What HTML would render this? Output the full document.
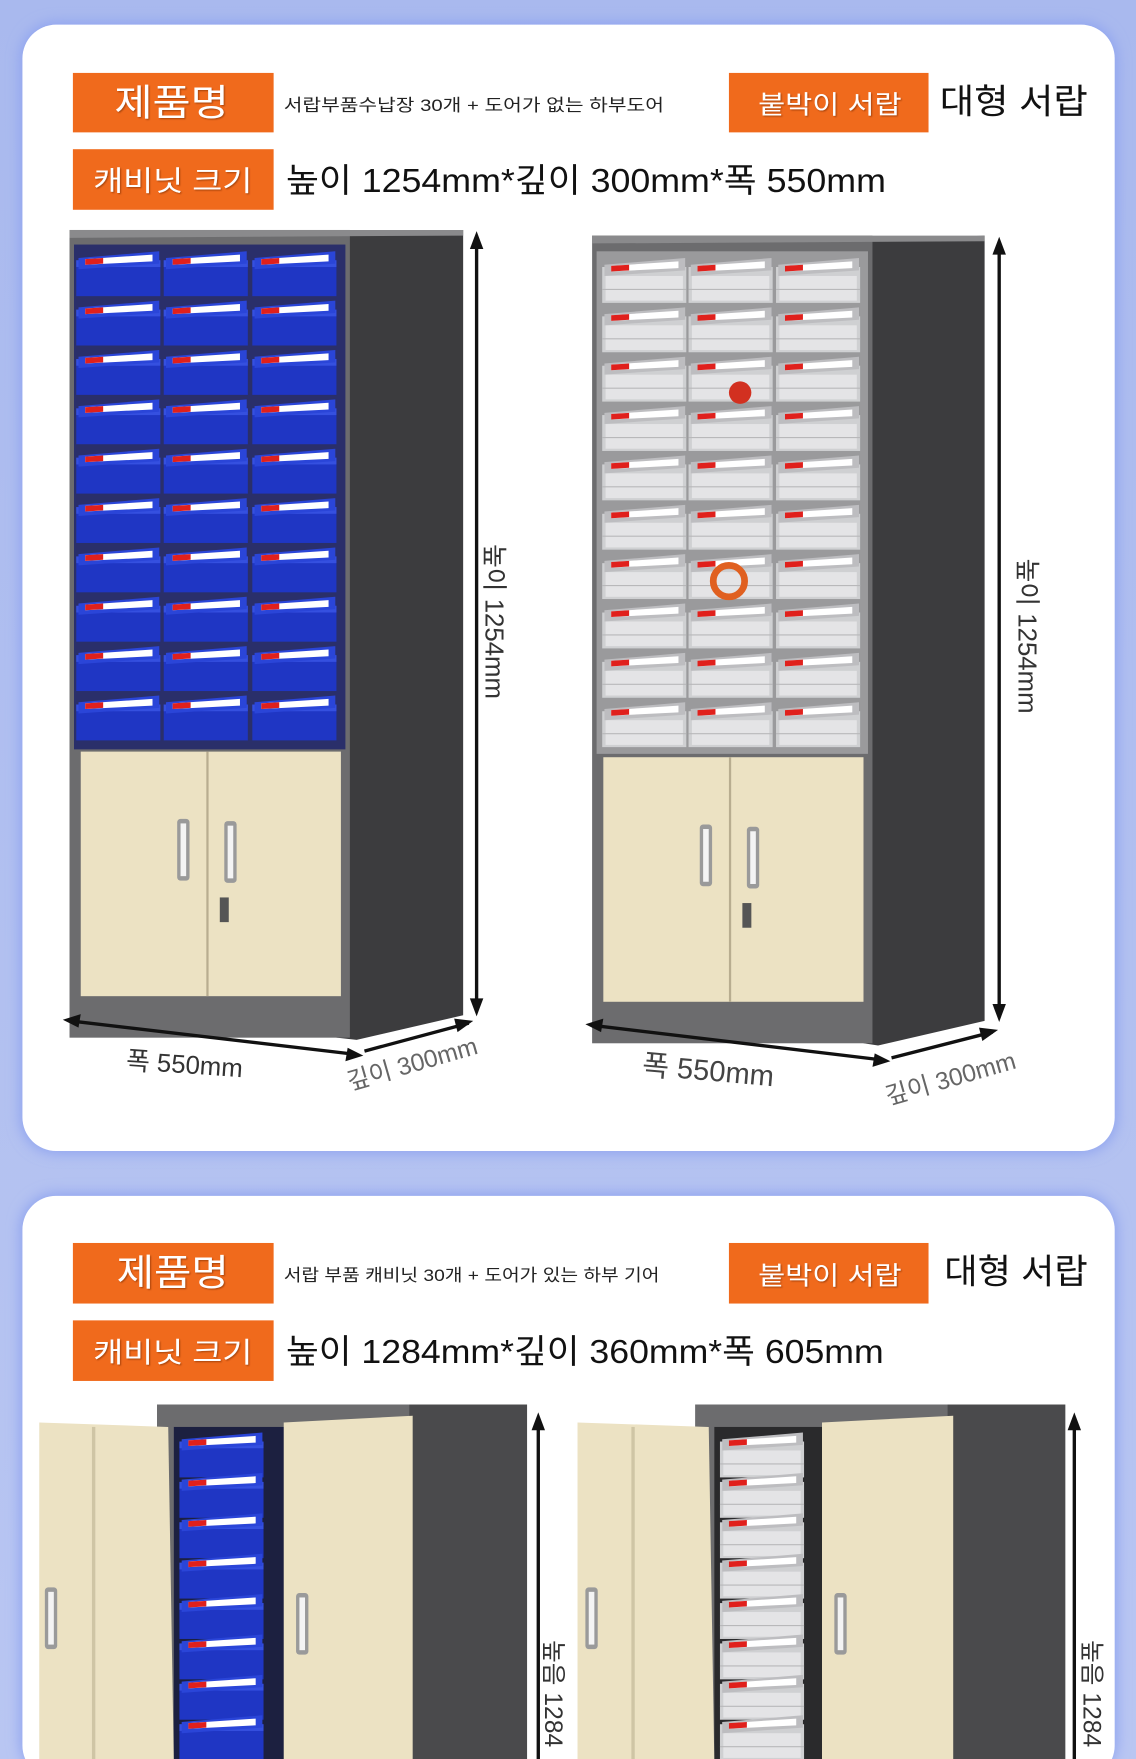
<!DOCTYPE html>
<html><head><meta charset="utf-8">
<style>
html,body{margin:0;padding:0;width:1136px;height:1759px;overflow:hidden;background:#b4c2f0;}
svg{display:block}
text{font-family:"Liberation Sans","Noto Sans CJK KR",sans-serif;}
</style></head>
<body>
<svg width="1136" height="1759" viewBox="0 0 1013 1568" preserveAspectRatio="none" xmlns="http://www.w3.org/2000/svg">
<defs>
<linearGradient id="bg" x1="0" y1="0" x2="0" y2="1"><stop offset="0" stop-color="#a9b9ee"/><stop offset="1" stop-color="#b9c6f2"/></linearGradient>
<filter id="glow" x="-5%" y="-5%" width="110%" height="110%"><feGaussianBlur stdDeviation="6"/></filter>
<filter id="ts"><feDropShadow dx="1" dy="1" stdDeviation="0.8" flood-color="#7a2a00" flood-opacity="0.6"/></filter>
<g id="bd">
<rect x="0" y="10" width="75" height="32" fill="#1f36c4"/>
<rect x="0" y="10" width="75" height="6" fill="#3550e0"/>
<polygon points="2,8 74,2 74,13 2,18" fill="#2a45d8"/>
<polygon points="8,9 68,5 68,11 8,14" fill="#fff"/>
<polygon points="8,9 24,8 24,13 8,14" fill="#e0201c"/>
</g>
<g id="cd">
<rect x="0" y="10" width="75" height="32" fill="#cfd0d2"/>
<rect x="3" y="18" width="69" height="22" fill="#e4e4e6"/>
<line x1="0" y1="30" x2="75" y2="30" stroke="#b8b8ba"/>
<polygon points="2,8 74,2 74,13 2,18" fill="#bdbdc0"/>
<polygon points="8,9 68,5 68,11 8,14" fill="#fff"/>
<polygon points="8,9 24,8 24,13 8,14" fill="#e0201c"/>
</g>
<g id="handle">
<rect x="0" y="0" width="11" height="55" rx="3" fill="#9a9a9a"/>
<rect x="3" y="4" width="5" height="47" fill="#f4f4f4"/>
</g>
</defs>
<rect width="1013" height="1568" fill="url(#bg)"/>
<rect x="18" y="20" width="978" height="1008" rx="32" fill="#8ea3f0" filter="url(#glow)"/>
<rect x="20" y="22" width="974" height="1004" rx="30" fill="#fff"/>
<rect x="18" y="1064" width="978" height="520" rx="32" fill="#8ea3f0" filter="url(#glow)"/>
<rect x="20" y="1066" width="974" height="520" rx="30" fill="#fff"/>

<!-- header 1 -->
<rect x="65" y="65" width="179" height="53" fill="#f06a1c"/>
<text x="102" y="103" font-size="33" fill="#fff" textLength="102" lengthAdjust="spacingAndGlyphs" filter="url(#ts)">제품명</text>
<text x="253" y="99" font-size="15" fill="#222" textLength="339" lengthAdjust="spacingAndGlyphs">서랍부품수납장 30개 + 도어가 없는 하부도어</text>
<rect x="650" y="65" width="178" height="53" fill="#f06a1c"/>
<text x="676" y="101" font-size="23" fill="#fff" textLength="128" lengthAdjust="spacingAndGlyphs" filter="url(#ts)">붙박이 서랍</text>
<text x="838" y="101" font-size="31" fill="#111" textLength="132" lengthAdjust="spacingAndGlyphs">대형 서랍</text>
<rect x="65" y="133" width="179" height="54" fill="#f06a1c"/>
<text x="83" y="170" font-size="25" fill="#fff" textLength="142" lengthAdjust="spacingAndGlyphs" filter="url(#ts)">캐비닛 크기</text>
<text x="255" y="171" font-size="30" fill="#111" textLength="535" lengthAdjust="spacingAndGlyphs">높이 1254mm*깊이 300mm*폭 550mm</text>

<!-- cabinet 1 -->
<polygon points="300,210 413,205 413,905 318,927 300,925" fill="#3c3c3e"/>
<rect x="62" y="205" width="250" height="720" fill="#6c6c6e"/>
<polygon points="62,205 413,205 413,210 62,212" fill="#8a8a8c"/>
<rect x="66" y="218" width="242" height="450" fill="#2a2f6a"/>
<g>
<use href="#bd" x="68" y="222"/><use href="#bd" x="146" y="222"/><use href="#bd" x="225" y="222"/>
<use href="#bd" x="68" y="266"/><use href="#bd" x="146" y="266"/><use href="#bd" x="225" y="266"/>
<use href="#bd" x="68" y="310"/><use href="#bd" x="146" y="310"/><use href="#bd" x="225" y="310"/>
<use href="#bd" x="68" y="354"/><use href="#bd" x="146" y="354"/><use href="#bd" x="225" y="354"/>
<use href="#bd" x="68" y="398"/><use href="#bd" x="146" y="398"/><use href="#bd" x="225" y="398"/>
<use href="#bd" x="68" y="442"/><use href="#bd" x="146" y="442"/><use href="#bd" x="225" y="442"/>
<use href="#bd" x="68" y="486"/><use href="#bd" x="146" y="486"/><use href="#bd" x="225" y="486"/>
<use href="#bd" x="68" y="530"/><use href="#bd" x="146" y="530"/><use href="#bd" x="225" y="530"/>
<use href="#bd" x="68" y="574"/><use href="#bd" x="146" y="574"/><use href="#bd" x="225" y="574"/>
<use href="#bd" x="68" y="618"/><use href="#bd" x="146" y="618"/><use href="#bd" x="225" y="618"/>
</g>
<rect x="72" y="670" width="232" height="218" fill="#ece2c3"/>
<line x1="185" y1="670" x2="185" y2="888" stroke="#b8ad90" stroke-width="2"/>
<use href="#handle" x="158" y="730"/><use href="#handle" x="200" y="732"/>
<rect x="196" y="800" width="8" height="22" fill="#555"/>
<line x1="425" y1="212" x2="425" y2="900" stroke="#111" stroke-width="3"/>
<polygon points="425,206 419,222 431,222" fill="#111"/><polygon points="425,906 419,890 431,890" fill="#111"/>
<text transform="translate(433,485) rotate(90)" font-size="23" fill="#333">높이 1254mm</text>
<line x1="62" y1="910" x2="318" y2="940" stroke="#111" stroke-width="3"/>
<polygon points="56,909 72,904 70,916" fill="#111"/><polygon points="324,941 308,946 310,934" fill="#111"/>
<line x1="325" y1="937" x2="418" y2="912" stroke="#111" stroke-width="3"/>
<polygon points="422,910 408,920 405,908" fill="#111"/>
<text x="112" y="953" font-size="23" fill="#333" transform="rotate(4 112 953)">폭 550mm</text>
<text x="312" y="972" font-size="22" fill="#666" transform="rotate(-16 312 972)">깊이 300mm</text>

<!-- cabinet 2 -->
<polygon points="770,215 878,210 878,910 783,932 770,930" fill="#3c3c3e"/>
<rect x="528" y="210" width="250" height="720" fill="#6c6c6e"/>
<polygon points="528,210 878,210 878,215 528,217" fill="#8a8a8c"/>
<rect x="532" y="224" width="242" height="448" fill="#9a9a9c"/>
<g>
<use href="#cd" x="537" y="228"/><use href="#cd" x="614" y="228"/><use href="#cd" x="692" y="228"/>
<use href="#cd" x="537" y="272"/><use href="#cd" x="614" y="272"/><use href="#cd" x="692" y="272"/>
<use href="#cd" x="537" y="316"/><use href="#cd" x="614" y="316"/><use href="#cd" x="692" y="316"/>
<use href="#cd" x="537" y="360"/><use href="#cd" x="614" y="360"/><use href="#cd" x="692" y="360"/>
<use href="#cd" x="537" y="404"/><use href="#cd" x="614" y="404"/><use href="#cd" x="692" y="404"/>
<use href="#cd" x="537" y="448"/><use href="#cd" x="614" y="448"/><use href="#cd" x="692" y="448"/>
<use href="#cd" x="537" y="492"/><use href="#cd" x="614" y="492"/><use href="#cd" x="692" y="492"/>
<use href="#cd" x="537" y="536"/><use href="#cd" x="614" y="536"/><use href="#cd" x="692" y="536"/>
<use href="#cd" x="537" y="580"/><use href="#cd" x="614" y="580"/><use href="#cd" x="692" y="580"/>
<use href="#cd" x="537" y="624"/><use href="#cd" x="614" y="624"/><use href="#cd" x="692" y="624"/>
</g>
<circle cx="660" cy="350" r="10" fill="#d23020"/><circle cx="650" cy="518" r="14" fill="none" stroke="#e06020" stroke-width="6"/>
<rect x="538" y="675" width="232" height="218" fill="#ece2c3"/>
<line x1="651" y1="675" x2="651" y2="893" stroke="#b8ad90" stroke-width="2"/>
<use href="#handle" x="624" y="735"/><use href="#handle" x="666" y="737"/>
<rect x="662" y="805" width="8" height="22" fill="#555"/>
<line x1="891" y1="217" x2="891" y2="905" stroke="#111" stroke-width="3"/>
<polygon points="891,211 885,227 897,227" fill="#111"/><polygon points="891,911 885,895 897,895" fill="#111"/>
<text transform="translate(908,498) rotate(90)" font-size="23" fill="#333">높이 1254mm</text>
<line x1="528" y1="914" x2="788" y2="945" stroke="#111" stroke-width="3"/>
<polygon points="522,913 538,908 536,920" fill="#111"/><polygon points="794,946 778,951 780,939" fill="#111"/>
<line x1="795" y1="943" x2="885" y2="920" stroke="#111" stroke-width="3"/>
<polygon points="890,918 876,928 873,916" fill="#111"/>
<text x="572" y="958" font-size="26" fill="#444" transform="rotate(5 572 958)">폭 550mm</text>
<text x="792" y="985" font-size="22" fill="#666" transform="rotate(-16 792 985)">깊이 300mm</text>

<!-- header 2 -->
<rect x="65" y="1108" width="179" height="54" fill="#f06a1c"/>
<text x="104" y="1146" font-size="33" fill="#fff" textLength="100" lengthAdjust="spacingAndGlyphs" filter="url(#ts)">제품명</text>
<text x="253" y="1142" font-size="15" fill="#222" textLength="335" lengthAdjust="spacingAndGlyphs">서랍 부품 캐비닛 30개 + 도어가 있는 하부 기어</text>
<rect x="650" y="1108" width="178" height="54" fill="#f06a1c"/>
<text x="676" y="1145" font-size="23" fill="#fff" textLength="128" lengthAdjust="spacingAndGlyphs" filter="url(#ts)">붙박이 서랍</text>
<text x="842" y="1144" font-size="31" fill="#111" textLength="128" lengthAdjust="spacingAndGlyphs">대형 서랍</text>
<rect x="65" y="1177" width="179" height="54" fill="#f06a1c"/>
<text x="83" y="1214" font-size="25" fill="#fff" textLength="142" lengthAdjust="spacingAndGlyphs" filter="url(#ts)">캐비닛 크기</text>
<text x="255" y="1215" font-size="30" fill="#111" textLength="533" lengthAdjust="spacingAndGlyphs">높이 1284mm*깊이 360mm*폭 605mm</text>

<!-- cabinet 3 -->
<rect x="140" y="1252" width="330" height="320" fill="#4a4a4c"/>
<rect x="140" y="1252" width="225" height="320" fill="#6c6c6e"/>
<rect x="155" y="1272" width="100" height="300" fill="#1c2040"/>
<g>
<use href="#bd" x="160" y="1275"/><use href="#bd" x="160" y="1311"/><use href="#bd" x="160" y="1347"/><use href="#bd" x="160" y="1383"/><use href="#bd" x="160" y="1419"/><use href="#bd" x="160" y="1455"/><use href="#bd" x="160" y="1491"/><use href="#bd" x="160" y="1527"/>
</g>
<polygon points="35,1268 150,1272 155,1572 35,1572" fill="#ece2c3"/>
<rect x="82" y="1272" width="3" height="300" fill="#cfc5a5"/>
<use href="#handle" x="40" y="1415"/>
<polygon points="253,1268 368,1262 368,1572 253,1572" fill="#ece2c3"/>
<use href="#handle" x="264" y="1420"/>
<line x1="480" y1="1265" x2="480" y2="1568" stroke="#111" stroke-width="3"/>
<polygon points="480,1259 474,1275 486,1275" fill="#111"/>
<text transform="translate(486,1462) rotate(90)" font-size="22" fill="#333">높음 1284</text>

<!-- cabinet 4 -->
<rect x="620" y="1252" width="330" height="320" fill="#4a4a4c"/>
<rect x="620" y="1252" width="225" height="320" fill="#6c6c6e"/>
<rect x="637" y="1272" width="100" height="300" fill="#2a2a2c"/>
<g>
<use href="#cd" x="642" y="1275"/><use href="#cd" x="642" y="1311"/><use href="#cd" x="642" y="1347"/><use href="#cd" x="642" y="1383"/><use href="#cd" x="642" y="1419"/><use href="#cd" x="642" y="1455"/><use href="#cd" x="642" y="1491"/><use href="#cd" x="642" y="1527"/>
</g>
<polygon points="515,1268 632,1272 637,1572 515,1572" fill="#ece2c3"/>
<rect x="563" y="1272" width="3" height="300" fill="#cfc5a5"/>
<use href="#handle" x="522" y="1415"/>
<polygon points="733,1268 850,1262 850,1572 733,1572" fill="#ece2c3"/>
<use href="#handle" x="744" y="1420"/>
<line x1="958" y1="1265" x2="958" y2="1568" stroke="#111" stroke-width="3"/>
<polygon points="958,1259 952,1275 964,1275" fill="#111"/>
<text transform="translate(966,1462) rotate(90)" font-size="22" fill="#333">높음 1284</text>
</svg>
</body></html>
